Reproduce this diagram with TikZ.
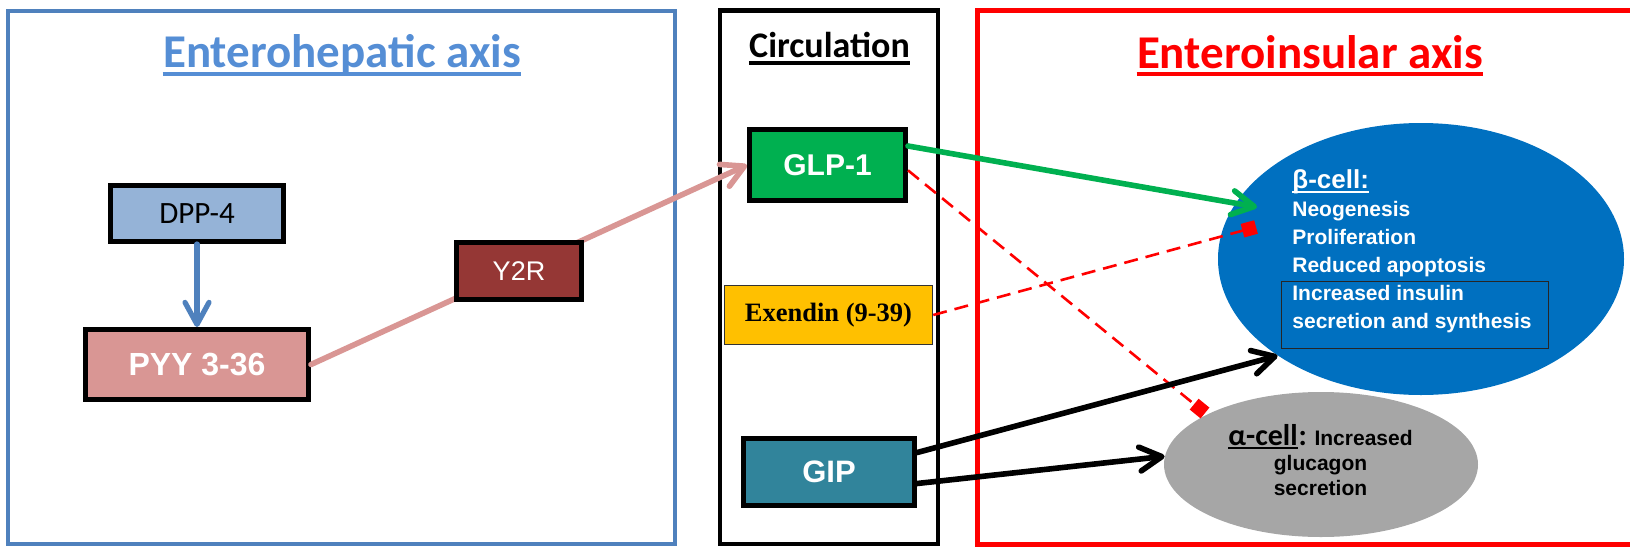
\documentclass[tikz,border=0pt]{standalone}
\usepackage{fontspec}
\setmainfont{Liberation Sans}
\newfontfamily\carlito{Carlito}
\newfontfamily\arialf{Liberation Sans}
\newfontfamily\serifb{Liberation Serif}
\usetikzlibrary{arrows.meta,shapes.geometric,calc}
\definecolor{frameblue}{HTML}{4F81BD}
\definecolor{titleblue}{HTML}{558ED5}
\definecolor{dppfill}{HTML}{95B3D7}
\definecolor{pyyfill}{HTML}{D99694}
\definecolor{y2rfill}{HTML}{953735}
\definecolor{glpfill}{HTML}{00B050}
\definecolor{exfill}{HTML}{FFC000}
\definecolor{gipfill}{HTML}{31849B}
\definecolor{betafill}{HTML}{0070C0}
\definecolor{alphafill}{HTML}{A6A6A6}
\definecolor{pinkc}{HTML}{D99694}
\begin{document}
\begin{tikzpicture}[x=0.5pt,y=-0.5pt,
  box/.style={draw=black, line width=2.5pt, inner sep=0pt, align=center},
  txt/.style={inner sep=0pt, anchor=base},
  head/.style={-{Straight Barb[length=11pt,width=12pt,round]}},
  conn/.style={line width=2.8pt, line cap=round, head},
  inhib/.style={draw=red, line width=1.3pt, dash pattern=on 7pt off 4pt,
    -{Square[length=7pt,width=7pt]}},
  ttl/.style={txt, font=\carlito\bfseries\fontsize{23.5}{28}\selectfont},
  bline/.style={inner sep=0pt, anchor=base west, text=white,
    font=\arialf\bfseries\fontsize{10.5}{12}\selectfont},
  aline/.style={inner sep=0pt, anchor=base, text=black,
    font=\arialf\bfseries\fontsize{10.5}{12}\selectfont},
]
\useasboundingbox (0,0) rectangle (1630,547);
\clip (0,0) rectangle (1630,547);

% frames
\draw[frameblue, line width=2pt] (8,10.5) rectangle (675,544);
\draw[black, line width=2.25pt] (720,10.5) rectangle (938,544);
\draw[red, line width=2.5pt] (977.5,10) rectangle (1645,544.5);

% titles
\node[ttl, text=titleblue] (t1) at (342,67) {Enterohepatic axis};
\draw[titleblue, line width=1.75pt] ([yshift=-3.5pt]t1.base west) -- ([yshift=-3.5pt]t1.base east);
\node[txt, font=\carlito\bfseries\fontsize{18}{22}\selectfont] (t2) at (829.5,57.6) {Circulation};
\draw[black, line width=1.6pt] ([yshift=-2.7pt]t2.base west) -- ([yshift=-2.7pt]t2.base east);
\node[ttl, text=red] (t3) at (1310,68) {Enteroinsular axis};
\draw[red, line width=1.75pt] ([yshift=-3pt]t3.base west) -- ([yshift=-3pt]t3.base east);

% left boxes
\node[box, fill=dppfill, minimum width=86.5pt, minimum height=28pt,
  font=\carlito\fontsize{15.5}{18}\selectfont] (dpp) at (197,213.5) {DPP-4};
\node[box, fill=pyyfill, minimum width=111.5pt, minimum height=35pt, text=white,
  font=\arialf\bfseries\fontsize{16}{19}\selectfont] (pyy) at (197,364.5) {PYY 3-36};

% circulation boxes
\node[box, fill=glpfill, minimum width=78pt, minimum height=35.5pt, text=white,
  font=\arialf\bfseries\fontsize{15}{18}\selectfont] (glp) at (827.5,165) {GLP-1};
\node[box, fill=exfill, line width=0.75pt, draw=black!80, minimum width=104pt, minimum height=29.5pt,
  font=\serifb\bfseries\fontsize{13.25}{16}\selectfont] (exen) at (828.5,315) {Exendin (9-39)};
\node[box, fill=gipfill, minimum width=85.5pt, minimum height=33.5pt, text=white,
  font=\arialf\bfseries\fontsize{15.5}{18}\selectfont] (gip) at (829,472) {GIP};

% pink connector behind Y2R
\draw[pinkc, line width=2.8pt, line cap=round, head] (pyy.east) -- (glp.west);
\node[box, fill=y2rfill, minimum width=62.5pt, minimum height=28.5pt, text=white,
  font=\arialf\fontsize{13.5}{16}\selectfont] (y2r) at (519,271) {Y2R};

\draw[frameblue, line width=2.6pt, line cap=round, head] (dpp.south) -- (pyy.north);

% cells
\node[ellipse, fill=betafill, minimum width=203pt, minimum height=136pt, inner sep=0pt] (beta) at (1421,259) {};
\node[ellipse, fill=alphafill, minimum width=157pt, minimum height=72.5pt, inner sep=0pt] (alpha) at (1321,464.5) {};
\node[draw=black!85, line width=0.6pt, minimum width=133.5pt, minimum height=33.5pt, inner sep=0pt] (ibox) at (1415,315) {};

\node[bline, font=\arialf\bfseries\fontsize{13}{15}\selectfont] (b0) at (1292,188.5) {β-cell:};
\draw[white, line width=1pt] ([yshift=-1.6pt]b0.base west) -- ([yshift=-1.6pt]b0.base east);
\node[bline] (b1) at (1292,216) {Neogenesis};
\node[bline] (b2) at (1292,244) {Proliferation};
\node[bline] (b3) at (1292,272) {Reduced apoptosis};
\node[bline] (b4) at (1292,300) {Increased insulin};
\node[bline] (b5) at (1292,328) {secretion and synthesis};

\node[inner sep=0pt, anchor=base west, font=\carlito\bfseries\fontsize{15}{17}\selectfont] (a0) at (1228,445) {α-cell};
\draw[black, line width=1pt] ([yshift=-1.5pt]a0.base west) -- ([yshift=-1.5pt]a0.base east);
\node[inner sep=0pt, anchor=base west, font=\arialf\bfseries\fontsize{10.5}{12}\selectfont] (a1) at (a0.base east)
  {{\carlito\fontsize{15}{17}\selectfont:} Increased};
\node[aline] (a2) at (1320.5,470) {glucagon};
\node[aline] (a3) at (1320.5,495) {secretion};

% connectors to cells
\coordinate (gtip) at (1257,207);
\coordinate (etip) at (1256,227);
\coordinate (atip) at (1205,413);
\draw[inhib] (exen.east) -- (etip);
\draw[inhib] ($(glp.north east)!0.57!(glp.south east)$) -- (atip);
\draw[glpfill, conn] ($(glp.north east)!0.25!(glp.south east)$) -- (gtip);
\draw[black, conn] ($(gip.north east)!0.23!(gip.south east)$) -- (beta.214);
\draw[black, conn] ($(gip.north east)!0.66!(gip.south east)$) -- (alpha.177);
\end{tikzpicture}
\end{document}
